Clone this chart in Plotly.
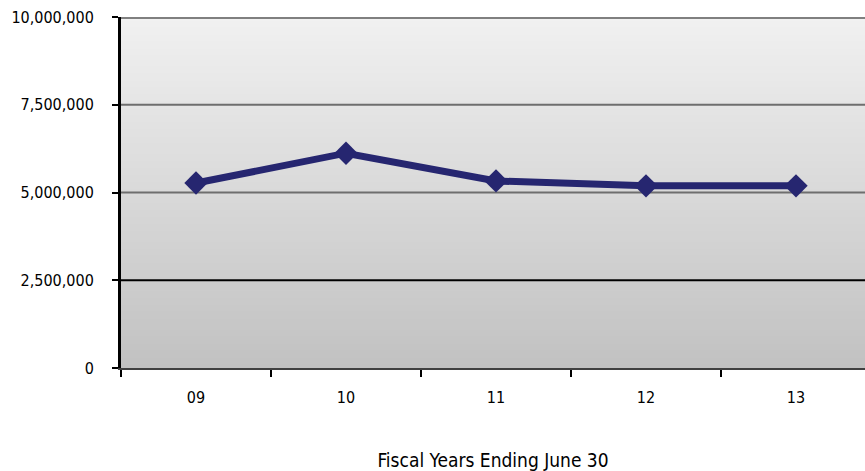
import plotly.graph_objects as go

# Fiscal year totals
years = ["09", "10", "11", "12", "13"]
values = [5270000, 6120000, 5330000, 5190000, 5190000]
y_ticks = [0, 2500000, 5000000, 7500000, 10000000]

FONT = "DejaVu Sans Condensed, Liberation Sans Narrow, Liberation Sans, sans-serif"

fig = go.Figure()

fig.add_trace(go.Scatter(
    x=years, y=values, mode="lines+markers",
    line=dict(color="#262670", width=7),
    marker=dict(symbol="diamond", size=18, color="#262670"),
    showlegend=False,
))

# Vertical gradient backdrop built from overlapping horizontal bands
n_bands = 100
top_rgb, bottom_rgb = (241, 241, 241), (193, 193, 193)
for i in range(n_bands):
    t = (i + 0.5) / n_bands
    rgb = [round(b + (a - b) * t) for a, b in zip(top_rgb, bottom_rgb)]
    fig.add_shape(type="rect", xref="paper", yref="paper",
                  x0=0, x1=1, y0=i / n_bands, y1=min(1, (i + 2) / n_bands),
                  fillcolor=f"rgb({rgb[0]},{rgb[1]},{rgb[2]})",
                  line=dict(width=0), layer="below")

# Horizontal reference lines at the y tick values
grid_style = {2500000: ("#000000", 2), 5000000: ("#6e6e6e", 2),
              7500000: ("#6e6e6e", 2), 10000000: ("#808080", 4)}
for v in y_ticks[1:]:
    c, w = grid_style[v]
    fig.add_shape(type="line", xref="paper", x0=0, x1=1, yref="y", y0=v, y1=v,
                  line=dict(color=c, width=w), layer="below")

fig.update_layout(
    width=865, height=471,
    margin=dict(l=121, r=0, t=17, b=103),
    paper_bgcolor="white", plot_bgcolor="rgba(0,0,0,0)",
    font=dict(family=FONT, size=16, color="#000000"),
    xaxis=dict(
        type="category", range=[-0.5, 4.46], tickson="boundaries",
        ticks="outside", ticklen=7, tickwidth=2, tickcolor="#000000",
        ticklabelstandoff=14,
        showgrid=False, showline=True, linecolor="#404040", linewidth=2,
        title=dict(text="Fiscal Years Ending June 30", standoff=47),
        zeroline=False,
    ),
    yaxis=dict(
        range=[0, 10000000], tickvals=y_ticks,
        ticktext=[f"{v:,}" for v in y_ticks],
        ticks="outside", ticklen=6, tickwidth=2, tickcolor="#000000",
        ticklabelstandoff=15,
        showline=True, linecolor="#000000", linewidth=3,
        showgrid=False, zeroline=False,
    ),
)

fig.write_html("out.html")
